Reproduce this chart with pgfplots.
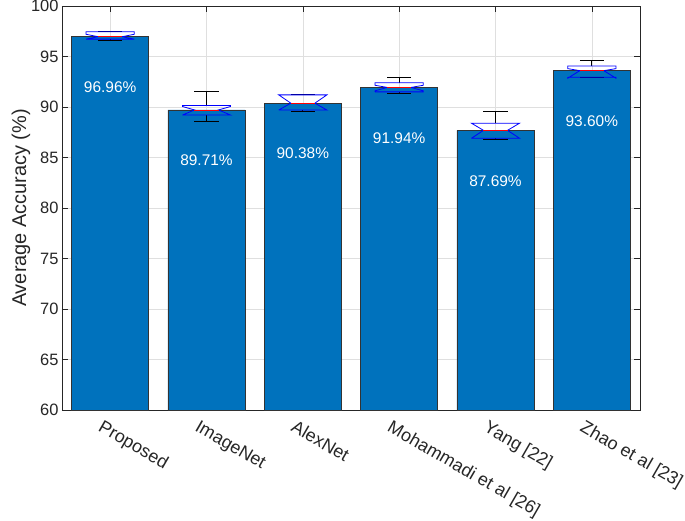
\documentclass[border=0pt]{standalone}
\usepackage{pgfplots}
\pgfplotsset{compat=1.18}
\usepackage{fontspec}
\setmainfont{Liberation Sans}

\definecolor{mblue}{RGB}{0,114,189}
\definecolor{axgray}{RGB}{38,38,38}
\definecolor{gridgray}{RGB}{223,223,223}

% box: x, lower whisker, q1, notch low, median, notch high, q3, upper whisker
\newcommand{\nbox}[8]{%
  \addplot[black, line width=0.8pt] coordinates {(#1,#7) (#1,#8)};
  \addplot[black, line width=0.8pt] coordinates {(#1-0.125,#8) (#1+0.125,#8)};
  \addplot[black, line width=0.8pt] coordinates {(#1,#3) (#1,#2)};
  \addplot[black, line width=0.8pt] coordinates {(#1-0.125,#2) (#1+0.125,#2)};
  \addplot[blue, line width=0.8pt] coordinates {
    (#1-0.25,#3) (#1-0.25,#4) (#1-0.125,#5) (#1-0.25,#6) (#1-0.25,#7)
    (#1+0.25,#7) (#1+0.25,#6) (#1+0.125,#5) (#1+0.25,#4) (#1+0.25,#3) (#1-0.25,#3)};
  \addplot[red, line width=0.8pt] coordinates {(#1-0.125,#5) (#1+0.125,#5)};
}

\begin{document}
\begin{tikzpicture}
\begin{axis}[
  scale only axis,
  width=578bp, height=404bp,
  xmin=0.5, xmax=6.5,
  ymin=60, ymax=100,
  xtick={1,2,3,4,5,6},
  xticklabels={Proposed,ImageNet,AlexNet,Mohammadi et al [26],Yang [22],Zhao et al [23]},
  ytick={60,65,...,100},
  /pgf/number format/assume math mode=true,
  yticklabel style={font=\fontsize{16.5}{19}\selectfont, text=axgray},
  xticklabel style={rotate=-30, anchor=north west, xshift=-4bp, yshift=-8bp,
    font=\fontsize{18}{21}\selectfont, text=axgray},
  ylabel={Average Accuracy (\%)},
  ylabel style={font=\fontsize{20}{23}\selectfont, text=axgray, yshift=-6bp},
  tick style={axgray},
  tick align=inside,
  major tick length=6bp,
  xmajorgrids, ymajorgrids,
  grid style={gridgray, line width=0.6pt},
  axis line style={axgray, line width=0.6pt},
  clip=false,
]
\addplot[ybar, bar width=0.8, fill=mblue, draw=black!80, line width=0.7pt]
  coordinates {(1,96.96) (2,89.71) (3,90.38) (4,91.94) (5,87.69) (6,93.60)};

\nbox{1}{96.55}{96.72}{96.72}{96.96}{97.20}{97.45}{97.50}
\nbox{2}{88.55}{89.20}{89.20}{89.71}{90.05}{90.15}{91.55}
\nbox{3}{89.55}{89.70}{89.70}{90.38}{91.20}{91.20}{91.25}
\nbox{4}{91.30}{91.50}{91.60}{91.94}{92.15}{92.40}{92.95}
\nbox{5}{86.75}{86.90}{86.90}{87.69}{88.40}{88.40}{89.55}
\nbox{6}{92.95}{92.95}{92.85}{93.60}{93.80}{94.05}{94.65}

\begin{scope}[every node/.style={text=white, font=\fontsize{15.5}{18}\selectfont}]
\node at (axis cs:1,91.96) {96.96\%};
\node at (axis cs:2,84.71) {89.71\%};
\node at (axis cs:3,85.38) {90.38\%};
\node at (axis cs:4,86.94) {91.94\%};
\node at (axis cs:5,82.69) {87.69\%};
\node at (axis cs:6,88.60) {93.60\%};
\end{scope}

\coordinate (bl) at (rel axis cs:0,0);
\coordinate (tr) at (rel axis cs:1,1);
\end{axis}
\pgfresetboundingbox
\path[use as bounding box] ([xshift=-62bp,yshift=-110bp]bl) rectangle ([xshift=45bp,yshift=6bp]tr);
\end{tikzpicture}
\end{document}
